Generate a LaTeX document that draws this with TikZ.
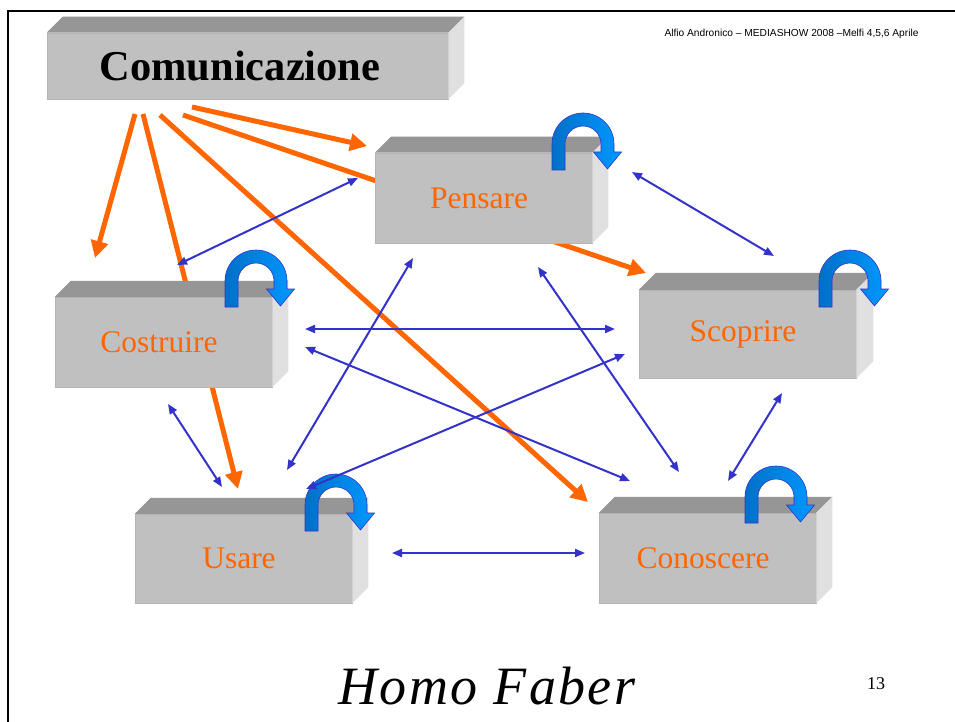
\documentclass[tikz,border=0pt]{standalone}
\usepackage{fontspec}
\setmainfont{Liberation Serif}
\newfontfamily\arialfont{Liberation Sans}
\usetikzlibrary{arrows.meta}
\definecolor{frontgray}{HTML}{C0C0C0}
\definecolor{topgray}{HTML}{969696}
\definecolor{sidegray}{HTML}{E0E0E0}
\definecolor{edgegray}{HTML}{B4B4B4}
\definecolor{orng}{HTML}{FF6600}
\definecolor{bluel}{HTML}{3333CC}
\definecolor{udark}{HTML}{0070C8}
\definecolor{ulight}{HTML}{0099FF}
\definecolor{uedge}{HTML}{3333CC}
\newcommand\cubeparts[2]{%
  \fill[topf] (#1.north west) -- ++(#2,-#2) -- ([shift={(#2,-#2)}]#1.north east) -- (#1.north east) -- cycle;
  \fill[sidef] (#1.north east) -- ++(#2,-#2) -- ([shift={(#2,-#2)}]#1.south east) -- (#1.south east) -- cycle;
}
\tikzset{
  cube/.style={fill=frontgray, draw=edgegray, line width=0.5pt, inner sep=0pt,
    minimum width=217pt, minimum height=90pt},
  lbl/.style={text=orng, inner sep=0pt, font=\fontsize{31.5}{36}\selectfont},
  topf/.style={fill=topgray},
  sidef/.style={fill=sidegray},
  orangearrow/.style={draw=orng, line width=5pt, -{Triangle[length=17pt,width=17pt]}},
  bluearrow/.style={draw=bluel, line width=2pt,
    {Triangle[length=10pt,width=8pt]}-{Triangle[length=10pt,width=8pt]}},
  uturn/.pic={
    \path[draw=uedge, line width=0.6pt, left color=udark, right color=ulight]
      (-31,26) -- (-31,0)
      .. controls (-31,-17.1) and (-17.1,-31) .. (0,-31)
      .. controls (17.1,-31) and (31,-17.1) .. (31,0)
      -- (31,8) -- (38.5,8) -- (24.5,25) -- (10.5,8) -- (18,8) -- (18,0)
      .. controls (18,-9.94) and (9.94,-18) .. (0,-18)
      .. controls (-9.94,-18) and (-18,-9.94) .. (-18,0)
      -- (-18,26) -- cycle;
  },
}
\begin{document}
\begin{tikzpicture}[x=1pt,y=-1pt]
\useasboundingbox (0,0) rectangle (955,722);
\fill[white] (0,0) rectangle (955,722);
% frame
\draw[line width=2.5pt] (8,722) -- (8,11) -- (955,11);

% orange connector end points
\coordinate (o1s) at (192,107); \coordinate (o1e) at (367,146);
\coordinate (o2s) at (183,115); \coordinate (o2e) at (646,273);
\coordinate (o3s) at (160,115); \coordinate (o3e) at (588,502);
\coordinate (o4s) at (135,114); \coordinate (o4e) at (95,258);
\coordinate (o5s) at (143,114); \coordinate (o5e) at (238,489);

\draw[orangearrow] (o1s) -- (o1e);
\draw[orangearrow] (o2s) -- (o2e);
\draw[orangearrow] (o3s) -- (o3e);
\draw[orangearrow] (o4s) -- (o4e);
\draw[orangearrow] (o5s) -- (o5e);

% boxes
\node[cube, minimum width=401pt, minimum height=66pt] (comm) at (247.5,66) {};
\cubeparts{comm}{16}
\node[inner sep=0pt, font=\fontsize{42.5}{46}\selectfont\bfseries] (commtxt) at (240,66) {Comunicazione};
\node[cube] (pens) at (483.5,198) {};
\cubeparts{pens}{16}
\node[lbl] (penstxt) at (479,198) {Pensare};
\node[cube] (cost) at (163.5,342) {};
\cubeparts{cost}{16}
\node[lbl] (costtxt) at (159,342) {Costruire};
\node[cube, minimum height=89pt] (usar) at (243.5,558.5) {};
\cubeparts{usar}{16}
\node[lbl] (usartxt) at (239,558) {Usare};
\node[cube, minimum height=88pt] (scop) at (747.5,334) {};
\cubeparts{scop}{17}
\node[lbl] (scoptxt) at (743,334) {Scoprire};
\node[cube] (cono) at (707.5,558) {};
\cubeparts{cono}{16}
\node[lbl] (conotxt) at (703,558) {Conoscere};

% curved self arrows
\pic (upens) at (583,144) {uturn};
\pic (ucost) at (256,281) {uturn};
\pic (uusar) at (336,505) {uturn};
\pic (uscop) at (850,281) {uturn};
\pic (ucono) at (776,497) {uturn};

% blue connector end points
\coordinate (ba1) at (358,178); \coordinate (ba2) at (177,265);
\coordinate (bb1) at (632,172); \coordinate (bb2) at (774,256);
\coordinate (bc1) at (305,329); \coordinate (bc2) at (615,329);
\coordinate (bd1) at (305,347); \coordinate (bd2) at (630,481);
\coordinate (be1) at (168,404); \coordinate (be2) at (222,487);
\coordinate (bf1) at (413,258); \coordinate (bf2) at (287,470);
\coordinate (bg1) at (538,267); \coordinate (bg2) at (679,472);
\coordinate (bh1) at (625,354); \coordinate (bh2) at (306,489);
\coordinate (bi1) at (782,393); \coordinate (bi2) at (728,481);
\coordinate (bj1) at (392,553); \coordinate (bj2) at (585,553);

\draw[bluearrow] (ba1) -- (ba2);
\draw[bluearrow] (bb1) -- (bb2);
\draw[bluearrow] (bc1) -- (bc2);
\draw[bluearrow] (bd1) -- (bd2);
\draw[bluearrow] (be1) -- (be2);
\draw[bluearrow] (bf1) -- (bf2);
\draw[bluearrow] (bg1) -- (bg2);
\draw[bluearrow] (bh1) -- (bh2);
\draw[bluearrow] (bi1) -- (bi2);
\draw[bluearrow] (bj1) -- (bj2);

% texts
\node[font=\arialfont\fontsize{10.2}{12}\selectfont, inner sep=0pt] (hdr) at (791.5,34)
  {Alfio Andronico – MEDIASHOW 2008 –Melfi 4,5,6 Aprile};
\node[anchor=base, inner sep=0pt, font=\fontsize{54}{60}\selectfont\itshape\addfontfeature{LetterSpace=4.5}] (title) at (487,704) {Homo Faber};
\node[anchor=base, inner sep=0pt, font=\fontsize{18}{20}\selectfont] (pnum) at (876,689) {13};
\end{tikzpicture}
\end{document}
